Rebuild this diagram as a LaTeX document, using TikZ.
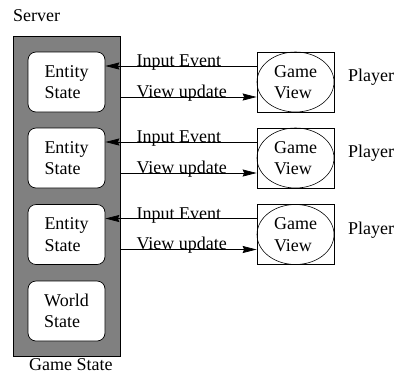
\documentclass[tikz,border=0pt]{standalone}
\usepackage{fontspec}
\setmainfont{Liberation Serif}
\usetikzlibrary{arrows.meta,shapes.geometric,calc}
\begin{document}
\begin{tikzpicture}[x=1pt,y=-1pt,
  every node/.style={font=\fontsize{18}{21.5}\selectfont, inner sep=0pt},
  statebox/.style={draw, fill=white, rounded corners=8pt, minimum width=77pt, minimum height=60pt, align=left, line width=0.7pt},
  viewbox/.style={draw, minimum width=77pt, minimum height=60pt, line width=0.7pt},
  viewell/.style={draw, ellipse, minimum width=77pt, minimum height=60pt, align=left, line width=0.6pt},
  lbl/.style={anchor=base west},
  conn/.style={line width=0.7pt, -{Stealth[length=14pt,width=7pt,inset=1.5pt]}}]
\useasboundingbox (0,0) rectangle (396,376);
\node[draw, fill=black!50, minimum width=107pt, minimum height=320pt, line width=0.7pt] (gs) at (66.5,196) {};
\node[statebox] (e1) at (66.5,82) {Entity\\State};
\node[statebox] (e2) at (66.5,158) {Entity\\State};
\node[statebox] (e3) at (66.5,234.5) {Entity\\State};
\node[statebox] (w) at (66.5,311) {World\\State};
\foreach \i/\y in {1/82,2/158,3/234.5}{
  \node[viewbox] (v\i) at (295.5,\y) {};
  \node[viewell] (g\i) at (295.5,\y) {Game\\View};
  \node[lbl] (p\i) at (348,\y-0.5) {Player};
  \coordinate (vin\i) at ($(v\i.west)+(0,-16)$);
  \coordinate (vout\i) at ($(v\i.west)+(0,15)$);
  \coordinate (ein\i) at ($(e\i.east)+(0,-16)$);
  \coordinate (gout\i) at ($(gs.east|-e\i.east)+(0,15)$);
  \draw[conn] (vin\i) -- (ein\i);
  \draw[conn] (gout\i) -- (vout\i);
  \node[lbl] (ie\i) at ($(ein\i)+(31,0.5)$) {Input Event};
  \node[lbl] (vu\i) at ($(gout\i)+(16,0)$) {View update};
}
\node[lbl] (srv) at (13,21) {Server};
\node[lbl] (gst) at (29,370.5) {Game State};
\end{tikzpicture}
\end{document}
